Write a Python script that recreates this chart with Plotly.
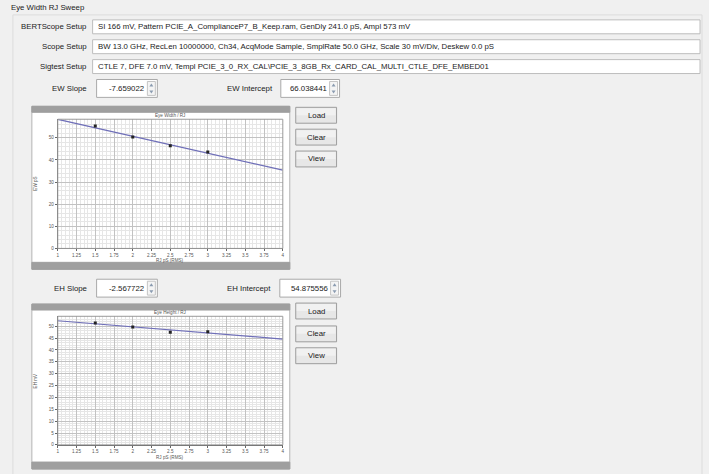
import plotly.graph_objects as go

# ---- data -------------------------------------------------------------
rj_points = [1.5, 2.0, 2.5, 3.0]          # RJ pS (RMS)
ew_points = [55.4, 50.4, 46.4, 43.6]      # eye width, pS
eh_points = [51.4, 49.7, 47.5, 47.7]      # eye height, mV
ew_slope, ew_intercept = -7.659022, 66.038441
eh_slope, eh_intercept = -2.567722, 54.875556
rj_range = [1, 4]
x_ticks = [1, 1.25, 1.5, 1.75, 2, 2.25, 2.5, 2.75, 3, 3.25, 3.5, 3.75, 4]

setup_labels = ["BERTScope Setup", "Scope Setup", "Sigtest Setup"]
setup_values = [
    "SI 166 mV, Pattern PCIE_A_ComplianceP7_B_Keep.ram, GenDly 241.0 pS, Ampl 573 mV",
    "BW 13.0 GHz, RecLen 10000000, Ch34, AcqMode Sample, SmplRate 50.0 GHz, Scale 30 mV/Div, Deskew 0.0 pS",
    "CTLE 7, DFE 7.0 mV, Templ PCIE_3_0_RX_CAL\\PCIE_3_8GB_Rx_CARD_CAL_MULTI_CTLE_DFE_EMBED01",
]

W, H = 709, 474
FONT = "Liberation Sans"
UI = dict(family=FONT, size=7.8, color="#1a1a1a")
SMALL = dict(family=FONT, size=4.6, color="#555555")


def px(x):
    return x / W


def py(y):
    return 1 - y / H


shapes = []
annotations = []


def rect(x0, y0, x1, y1, fill, line="rgba(0,0,0,0)", width=1, layer="below"):
    shapes.append(dict(type="rect", xref="paper", yref="paper",
                       x0=px(x0), x1=px(x1), y0=py(y1), y1=py(y0),
                       fillcolor=fill, line=dict(color=line, width=width),
                       layer=layer))


def text(x, y, s, xanchor="left", font=UI, angle=0):
    annotations.append(dict(x=px(x), y=py(y), xref="paper", yref="paper",
                            text=s, showarrow=False, xanchor=xanchor,
                            yanchor="middle", font=font, textangle=angle))


def spinbox(x0, y0, x1, y1, value):
    rect(x0, y0, x1, y1, "white", "#a9a9a9")
    rect(x1 - 10, y0 + 2, x1 - 2, y1 - 2, "#f4f4f4", "#c4c4c4")
    ym = (y0 + y1) / 2
    cx = x1 - 6
    for tip, base in ((ym - 5, ym - 2), (ym + 5, ym + 2)):
        shapes.append(dict(type="path", xref="paper", yref="paper",
                           path=f"M {px(cx-2)} {py(base)} L {px(cx+2)} {py(base)} L {px(cx)} {py(tip)} Z",
                           fillcolor="#8a9bb0", line=dict(width=0), layer="above"))
    text(x1 - 11, ym, value, xanchor="right")


def button(x0, y0, x1, y1, label):
    rect(x0, y0, x1, y1, "#e7e7e7", "#9d9d9d")
    rect(x0 + 1, y0 + 1, x1 - 1, (y0 + y1) / 2, "#f1f1f1")
    text((x0 + x1) / 2, (y0 + y1) / 2, label, xanchor="center")


def chart_panel(y_top, y_bot):
    rect(31, y_top, 290, y_bot, "white", "#b5b5b5")
    rect(31, y_top, 290, y_top + 6, "#9f9f9f", "#9f9f9f")
    rect(31, y_bot - 7, 290, y_bot, "#9f9f9f", "#9f9f9f")


# ---- window chrome ---------------------------------------------------
rect(12, 15, 704, 480, "rgba(0,0,0,0)", "#dcdcdc")
text(8, 8, "Eye Width RJ Sweep")

rows_y = [27, 47, 67]
for lab, val, yc in zip(setup_labels, setup_values, rows_y):
    text(88, yc, lab, xanchor="right")
    rect(92, yc - 7, 702, yc + 7, "white", "#bdbdbd")
    text(95, yc, val)

# EW controls
text(88, 89, "EW Slope", xanchor="right")
spinbox(96, 80, 157, 98, f"{ew_slope:.6f}")
text(275, 89, "EW Intercept", xanchor="right")
spinbox(281, 80, 340, 98, f"{ew_intercept:.6f}")

# EH controls
text(88, 290, "EH Slope", xanchor="right")
spinbox(96, 281, 157, 299, f"{eh_slope:.6f}")
text(273, 290, "EH Intercept", xanchor="right")
spinbox(280, 281, 341, 299, f"{eh_intercept:.6f}")

# chart frames and buttons
chart_panel(107, 271)
chart_panel(306, 472)
for (y0, y1), lab in zip(((108, 124), (130, 146), (152, 168)), ("Load", "Clear", "View")):
    button(296, y0, 337, y1, lab)
for (y0, y1), lab in zip(((305, 321), (328, 344), (350, 366)), ("Load", "Clear", "View")):
    button(296, y0, 337, y1, lab)

# ---- charts ----------------------------------------------------------
fig = go.Figure()

charts = [
    dict(xa="x", ya="y", pts=ew_points, slope=ew_slope, icpt=ew_intercept,
         top=120, bot=250, ymax=58.4, dy=10, minor=2,
         title="Eye Width / RJ", ytitle="EW pS"),
    dict(xa="x2", ya="y2", pts=eh_points, slope=eh_slope, icpt=eh_intercept,
         top=318.3, bot=447.7, ymax=54.2, dy=5, minor=1,
         title="Eye Height / RJ", ytitle="EH mV"),
]

left, right = 57, 283
for i, c in enumerate(charts):
    fit_x = rj_range
    fit_y = [c["slope"] * x + c["icpt"] for x in fit_x]
    fig.add_trace(go.Scatter(x=fit_x, y=fit_y, mode="lines",
                             line=dict(color="#6f6fb8", width=1.2),
                             xaxis=c["xa"], yaxis=c["ya"], hoverinfo="skip"))
    fig.add_trace(go.Scatter(x=rj_points, y=c["pts"], mode="markers",
                             marker=dict(symbol="square", size=3, color="#222222"),
                             xaxis=c["xa"], yaxis=c["ya"]))

    suffix = "" if i == 0 else "2"
    axis_common = dict(showline=True, linecolor="#666666", linewidth=1,
                       mirror=False, ticks="outside", ticklen=2, tickwidth=1,
                       tickcolor="#666666", tickfont=SMALL, zeroline=False,
                       gridcolor="#c2c2c2", gridwidth=1)
    fig.layout["xaxis" + suffix] = dict(
        axis_common, domain=[px(left), px(right)], range=rj_range,
        tickmode="array", tickvals=x_ticks, anchor="y" + suffix,
        minor=dict(dtick=0.05, tick0=1, showgrid=True, gridcolor="#e6e6e6"),
    )
    fig.layout["yaxis" + suffix] = dict(
        axis_common, domain=[py(c["bot"]), py(c["top"])], range=[0, c["ymax"]],
        dtick=c["dy"], tick0=0, anchor="x" + suffix,
        minor=dict(dtick=c["minor"], tick0=0, showgrid=True, gridcolor="#e6e6e6"),
    )
    # frame around the plotting area
    rect(left, c["top"], right, c["bot"], "rgba(0,0,0,0)", "#9a9a9a", layer="above")
    text((left + right) / 2, c["top"] - 3.5, c["title"], xanchor="center", font=SMALL)
    text((left + right) / 2, c["bot"] + 12.5, "RJ pS (RMS)", xanchor="center", font=SMALL)
    text(35, (c["top"] + c["bot"]) / 2, c["ytitle"], xanchor="center", font=SMALL, angle=-90)

fig.update_layout(
    width=W, height=H, margin=dict(l=0, r=0, t=0, b=0),
    paper_bgcolor="#f0f0f0", plot_bgcolor="white",
    showlegend=False, shapes=shapes, annotations=annotations,
)

fig.write_html("out.html")
